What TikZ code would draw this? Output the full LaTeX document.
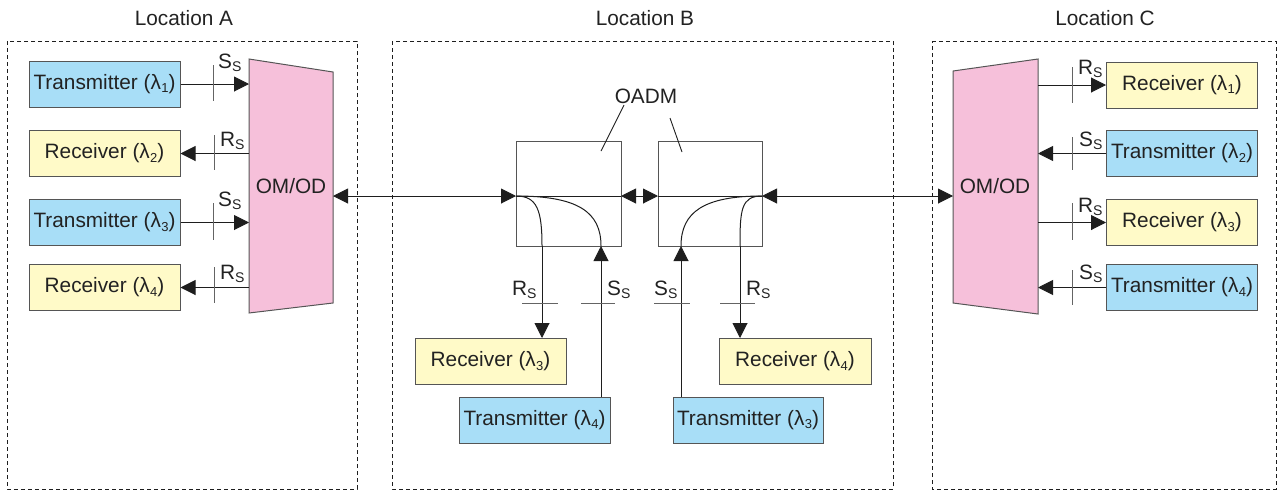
\documentclass[tikz,border=0pt]{standalone}
\usepackage{fontspec}
\setmainfont{Liberation Sans}
\usetikzlibrary{arrows.meta}
\definecolor{bluef}{RGB}{168,222,247}
\definecolor{yellowf}{RGB}{255,250,200}
\definecolor{pinkf}{RGB}{246,192,218}
\definecolor{edge}{RGB}{85,85,85}
\definecolor{txt}{RGB}{34,34,34}
\definecolor{wire}{RGB}{30,30,30}
\definecolor{tickc}{RGB}{100,100,100}
\newcommand\lam[1]{λ\kern0.3pt\raisebox{-3.5pt}{\fontsize{13}{13}\selectfont #1})}
\newcommand\subsc[1]{\raisebox{-3.5pt}{\fontsize{14}{14}\selectfont #1}}
\begin{document}
\begin{tikzpicture}[x=1pt,y=-1pt,
  every node/.style={font=\fontsize{20.8}{24}\selectfont, text=txt},
  boxbase/.style={draw=edge, line width=1pt, minimum width=151pt, minimum height=46pt, inner sep=0pt},
  txbox/.style={boxbase, fill=bluef},
  rxbox/.style={boxbase, fill=yellowf},
  oadmbox/.style={draw=edge, line width=1pt, minimum width=105pt, minimum height=105pt, inner sep=0pt},
  wireline/.style={draw=wire, line width=1pt},
  arr/.style={wireline, -{Triangle[length=15pt,width=15pt]}},
  dbl/.style={wireline, {Triangle[length=15pt,width=15pt]}-{Triangle[length=15pt,width=15pt]}},
  ticksty/.style={draw=tickc, line width=1pt},
  locbox/.style={draw=wire, line width=0.8pt, dash pattern=on 4pt off 3pt},
  lab/.style={anchor=base west, inner sep=0pt},
  trap/.style={draw=edge, line width=1pt, fill=pinkf}
]
\useasboundingbox (0,0) rectangle (1277,491);

% location frames
\draw[locbox] (7,41) rectangle (357,489);
\draw[locbox] (392,41) rectangle (893,489);
\draw[locbox] (932,41) -- (1276,41) -- (1276,489) -- (932,489) -- cycle;
\node (locA) at (184,18) {Location A};
\node (locB) at (645,18) {Location B};
\node (locC) at (1105,18) {Location C};

% OM/OD A
\draw[trap] (249,59) -- (333,72) -- (333,303) -- (249,313) -- cycle;
\node (omA) at (291,186) {OM/OD};
\coordinate (aL) at (249,0);
\coordinate (omAe) at (333,196);

% OM/OD C
\draw[trap] (953,71) -- (1038,59) -- (1038,314) -- (953,303) -- cycle;
\node (omC) at (995,186) {OM/OD};
\coordinate (cR) at (1038,0);
\coordinate (omCw) at (953,196);

% Location A boxes
\node[txbox] (tA1) at (104.5,84) {Transmitter (\lam{1}};
\node[rxbox] (rA2) at (104.5,153.5) {Receiver (\lam{2}};
\node[txbox] (tA3) at (104.5,222.5) {Transmitter (\lam{3}};
\node[rxbox] (rA4) at (104.5,287.5) {Receiver (\lam{4}};

\draw[arr] (tA1.east) -- (tA1.east -| aL);
\draw[arr] (rA2.east -| aL) -- (rA2.east);
\draw[arr] (tA3.east) -- (tA3.east -| aL);
\draw[arr] (rA4.east -| aL) -- (rA4.east);

\draw[ticksty] (213,65) -- (213,101);
\draw[ticksty] (214,135) -- (214,170);
\draw[ticksty] (213,203) -- (213,240);
\draw[ticksty] (214,267) -- (214,303);
\node[lab] (sA1) at (218,68) {S\subsc{S}};
\node[lab] (rsA2) at (220,146) {R\subsc{S}};
\node[lab] (sA3) at (218,206) {S\subsc{S}};
\node[lab] (rsA4) at (220,279) {R\subsc{S}};

% Location C boxes
\node[rxbox] (rC1) at (1182,85) {Receiver (\lam{1}};
\node[txbox] (tC2) at (1182,153.5) {Transmitter (\lam{2}};
\node[rxbox] (rC3) at (1182,222.5) {Receiver (\lam{3}};
\node[txbox] (tC4) at (1182,287.5) {Transmitter (\lam{4}};

\draw[arr] (rC1.west -| cR) -- (rC1.west);
\draw[arr] (tC2.west) -- (tC2.west -| cR);
\draw[arr] (rC3.west -| cR) -- (rC3.west);
\draw[arr] (tC4.west) -- (tC4.west -| cR);

\draw[ticksty] (1072,67) -- (1072,103);
\draw[ticksty] (1072,137) -- (1072,170);
\draw[ticksty] (1072,203) -- (1072,240);
\draw[ticksty] (1072,270) -- (1072,305);
\node[lab] (rsC1) at (1078,74) {R\subsc{S}};
\node[lab] (sC2) at (1079,146) {S\subsc{S}};
\node[lab] (rsC3) at (1078,212) {R\subsc{S}};
\node[lab] (sC4) at (1079,279) {S\subsc{S}};

% OADM
\node[oadmbox] (oadm1) at (568.5,193.5) {};
\node[oadmbox, minimum width=104pt] (oadm2) at (710,193.5) {};
\node (oadmlab) at (646,96) {OADM};
\draw[wireline, line width=0.9pt] (624,105) -- (601,151);
\draw[wireline, line width=0.9pt] (670,118) -- (682,152);

\coordinate (p1w) at (516,196);
\coordinate (p1e) at (621,196);
\coordinate (p2w) at (658,196);
\coordinate (p2e) at (762,196);
\coordinate (d1) at (542,246);
\coordinate (u1) at (601,246);
\coordinate (u2) at (681,246);
\coordinate (d2) at (740,246);

\draw[dbl] (omAe) -- (p1w);
\draw[wireline] (p1w) -- (p1e);
\draw[dbl] (p1e) -- (p2w);
\draw[wireline] (p2w) -- (p2e);
\draw[dbl] (p2e) -- (omCw);

\draw[wireline] (p1w) .. controls (537,196) and (542,210) .. (d1);
\draw[wireline] (p1w) .. controls (578,196) and (601,212) .. (u1);
\draw[wireline] (p2e) .. controls (741,196) and (740,210) .. (d2);
\draw[wireline] (p2e) .. controls (704,196) and (681,212) .. (u2);

% Location B boxes
\node[rxbox] (rB3) at (490.5,361.5) {Receiver (\lam{3}};
\node[txbox] (tB4) at (534.5,420) {Transmitter (\lam{4}};
\node[txbox, minimum width=150pt] (tB3) at (748,420) {Transmitter (\lam{3}};
\node[rxbox, minimum width=152pt] (rB4) at (795,361.5) {Receiver (\lam{4}};

\draw[arr] (d1) -- (d1 |- rB3.north);
\draw[arr] (tB4.north -| u1) -- (u1);
\draw[arr] (tB3.north -| u2) -- (u2);
\draw[arr] (d2) -- (d2 |- rB4.north);

\draw[ticksty] (522,303) -- (558,303);
\draw[ticksty] (581,303) -- (615,303);
\draw[ticksty] (654,303) -- (690,303);
\draw[ticksty] (720,303) -- (755,303);
\node[lab] (rsB1) at (512,295) {R\subsc{S}};
\node[lab] (sB1) at (607,295) {S\subsc{S}};
\node[lab] (sB2) at (654,295) {S\subsc{S}};
\node[lab] (rsB2) at (746,295) {R\subsc{S}};
\end{tikzpicture}
\end{document}
